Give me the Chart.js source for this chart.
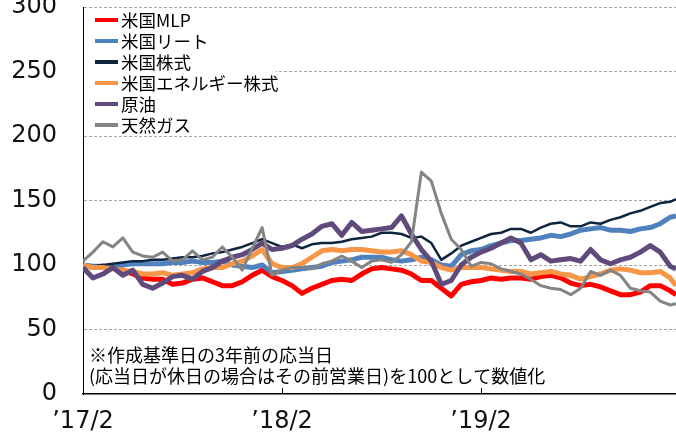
<!DOCTYPE html>
<html>
<head>
<meta charset="utf-8">
<script src="https://cdn.jsdelivr.net/npm/chart.js@4"></script>
<style>
html, body { margin: 0; padding: 0; background: #fff; }
</style>
</head>
<body>
<canvas id="chart" width="676" height="434"></canvas>
<script>
// series, every 18 days ('17/2 -> '20/1)
var seriesNames = ['米国MLP', '米国リート', '米国株式', '米国エネルギー株式', '原油', '天然ガス'];

var mlp = [100,98,99,98,96,93,90,89,89,85, 86,89,90,87,84,84,87,92,96,91,
  88,84,78,82,85,88,89,88,93,97, 98,97,96,93,88,88,82,76,85,87,
  88,90,89,90,90,89,91,92,90,86, 84,85,83,80,77,77,79,84,84,80, 77];
var reit = [100,99,99,98,100,101,101,101,101,102, 102,103,102,102,103,100,99,98,100,94,
  95,96,97,98,99,102,103,104,106,106, 106,104,103,104,106,104,100,99,108,111,
  112,115,117,119,119,120,121,123,122,124, 127,128,129,127,127,126,128,129,132,137, 138];
var usEquity = [100,99,100,101,102,103,103,104,104,105, 106,106,107,109,110,112,114,117,120,117,
  114,116,113,116,117,117,118,120,121,122, 125,125,124,121,122,117,104,109,115,118,
  121,124,125,128,128,125,129,132,133,130, 130,133,132,135,137,140,142,145,148,149, 151];
var energy = [100,98,98,97,96,95,93,93,94,92, 93,94,97,98,98,101,103,107,112,101,
  98,98,101,106,111,112,111,112,112,111, 110,110,111,108,103,102,98,96,98,98,
  98,97,96,95,95,93,94,95,93,92, 89,91,93,96,97,96,94,94,95,90, 84];
var crude = [98,90,93,98,92,96,85,82,86,91, 92,89,95,98,103,106,108,112,117,112,
  113,115,120,124,130,132,123,133,126,127, 128,129,138,124,112,103,85,88,100,106,
  110,113,117,121,117,104,108,103,104,105, 103,112,104,101,104,106,110,115,110,99, 97];
var natGas = [103,110,118,114,121,110,107,106,110,103, 104,111,104,106,114,106,96,113,129,92,
  96,98,98,97,101,103,107,103,98,103, 104,102,108,118,172,165,140,120,112,99,
  102,101,97,95,93,89,84,82,81,77, 82,95,92,96,92,82,80,79,72,69, 70];

// months since '17/2 for each sample
var months = mlp.map(function (v, i) { return i < 60 ? i * 0.6 : 35.75; });

var tickMonths = [0, 12, 24];
var tickLabels = ['’17/2', '’18/2', '’19/2'];
var noteLines = ['※作成基準日の3年前の応当日', '(応当日が休日の場合はその前営業日)を100として数値化'];

var colors = ['#ff0000', '#4f81bd', '#0f243e', '#f79646', '#604a7b', '#848484'];
var widths = [5, 5, 2.5, 5, 5, 3];
var allSeries = [mlp, reit, usEquity, energy, crude, natGas];

var datasets = allSeries.map(function (vals, i) {
  return {
    label: seriesNames[i],
    data: vals.map(function (v, j) { return { x: months[j], y: v }; }),
    borderColor: colors[i],
    backgroundColor: colors[i],
    borderWidth: widths[i],
    pointRadius: 0,
    tension: 0,
    borderJoinStyle: 'round',
    order: 5 - i
  };
});

var jpFont = '"Noto Sans CJK JP", "Noto Sans", sans-serif';

// legend with white box, inside the plot top-left
var legendBox = {
  id: 'legendBox',
  afterDatasetsDraw: function (chart) {
    var ctx = chart.ctx, a = chart.chartArea;
    ctx.save();
    ctx.fillStyle = '#fff';
    ctx.fillRect(a.left + 1, 10, 192, 124);
    ctx.font = '17.5px ' + jpFont;
    ctx.textBaseline = 'middle';
    chart.data.datasets.forEach(function (ds, i) {
      var y = 20 + i * 21;
      ctx.strokeStyle = ds.borderColor;
      ctx.lineWidth = 4;
      ctx.beginPath();
      ctx.moveTo(95, y);
      ctx.lineTo(118, y);
      ctx.stroke();
      ctx.fillStyle = '#000';
      ctx.fillText(ds.label, 121, y);
    });
    ctx.restore();
  }
};

// footnote + small inward x ticks
var extras = {
  id: 'extras',
  afterDraw: function (chart) {
    var ctx = chart.ctx, a = chart.chartArea, xs = chart.scales.x;
    ctx.save();
    ctx.font = '18px ' + jpFont;
    ctx.fillStyle = '#000';
    ctx.textBaseline = 'middle';
    ctx.fillText(noteLines[0], 89, 355);
    ctx.fillText(noteLines[1], 89, 376);
    ctx.strokeStyle = '#000';
    ctx.lineWidth = 1;
    tickMonths.slice(1).forEach(function (m) {
      var px = Math.round(xs.getPixelForValue(m)) + 0.5;
      ctx.beginPath();
      ctx.moveTo(px, a.bottom);
      ctx.lineTo(px, a.bottom - 6);
      ctx.stroke();
    });
    ctx.restore();
  }
};

new Chart(document.getElementById('chart'), {
  type: 'line',
  data: { datasets: datasets },
  plugins: [legendBox, extras],
  options: {
    responsive: false,
    animation: false,
    layout: { padding: { top: 7, right: 0, bottom: 0, left: 0 } },
    plugins: { legend: { display: false }, tooltip: { enabled: false } },
    scales: {
      x: {
        type: 'linear',
        min: 0,
        max: 35.75,
        afterFit: function (s) { s.height = 40; s.paddingLeft = 0; s.paddingRight = 0; },
        afterBuildTicks: function (s) { s.ticks = tickMonths.map(function (m) { return { value: m }; }); },
        grid: { display: true, drawOnChartArea: false, drawTicks: false },
        border: { color: '#000', width: 1.5 },
        ticks: {
          padding: 13,
          maxRotation: 0,
          autoSkip: false,
          color: '#111',
          font: { family: 'DejaVu Sans', size: 24 },
          callback: function (v, i) { return tickLabels[i]; }
        }
      },
      y: {
        min: 0,
        max: 300,
        afterFit: function (s) { s.width = 83; s.paddingTop = 0; s.paddingBottom = 0; },
        grid: {
          drawTicks: false,
          color: function (c) { return c.tick && c.tick.value === 0 ? 'rgba(0,0,0,0)' : '#a6a6a6'; },
          lineWidth: 1
        },
        border: { color: '#000', width: 1, dash: [3, 2] },
        ticks: {
          stepSize: 50,
          padding: 26,
          color: '#111',
          font: { family: 'DejaVu Sans', size: 24 }
        }
      }
    }
  }
});
</script>
</body>
</html>
